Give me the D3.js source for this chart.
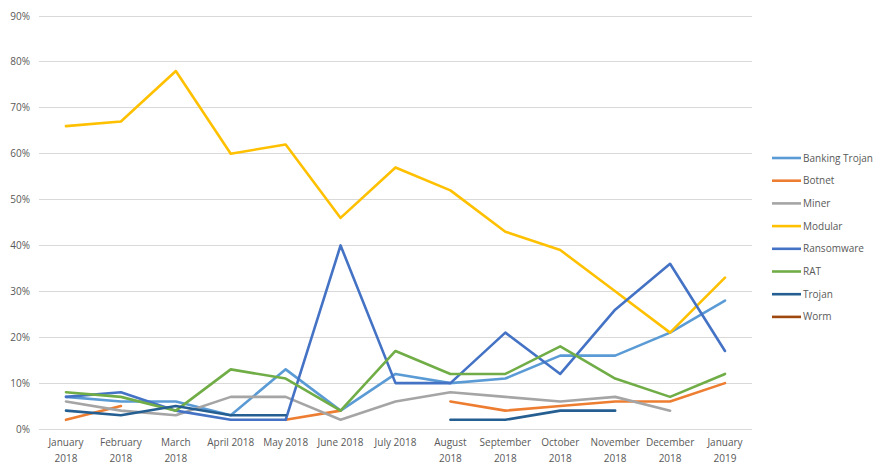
<!DOCTYPE html>
<html><head><meta charset="utf-8">
<script src="https://cdn.jsdelivr.net/npm/d3@7"></script>
<style>body{margin:0;background:#fff;font-family:"Open Sans","Liberation Sans",sans-serif;}</style>
</head><body><svg id="c" width="889" height="475"></svg>
<script>
const categories = ["January 2018","February 2018","March 2018","April 2018","May 2018","June 2018","July 2018","August 2018","September 2018","October 2018","November 2018","December 2018","January 2019"];
const tickLabels = [["January","2018"],["February","2018"],["March","2018"],["April 2018"],["May 2018"],["June 2018"],["July 2018"],["August","2018"],["September","2018"],["October","2018"],["November","2018"],["December","2018"],["January","2019"]];
const seriesNames = ["Banking Trojan","Botnet","Miner","Modular","Ransomware","RAT","Trojan","Worm"];
const seriesColors = ["#5B9BD5","#ED7D31","#A5A5A5","#FFC000","#4472C4","#70AD47","#255E91","#9E480E"];
const bankingTrojan = [7,6,6,3,13,4,12,10,11,16,16,21,28];
const botnet = [2,5,null,null,2,4,null,6,4,5,6,6,10];
const miner = [6,4,3,7,7,2,6,8,7,6,7,4,null];
const modular = [66,67,78,60,62,46,57,52,43,39,30,21,33];
const ransomware = [7,8,4,2,2,40,10,10,21,12,26,36,17];
const rat = [8,7,4,13,11,4,17,12,12,18,11,7,12];
const trojan = [4,3,5,3,3,null,null,2,2,4,4,null,null];
const worm = [null,null,null,null,null,null,null,null,null,null,null,null,null];
const yTicks = [0,10,20,30,40,50,60,70,80,90];

const seriesValues = [bankingTrojan,botnet,miner,modular,ransomware,rat,trojan,worm];
const svg = d3.select("#c");
const x = d3.scalePoint().domain(categories).range([66,725]);
const y = d3.scaleLinear().domain([0,90]).range([429,16]);
const textCol = "#595959";

// gridlines
svg.append("g").selectAll("line").data(yTicks).join("line")
  .attr("x1",39).attr("x2",752).attr("y1",d=>y(d)).attr("y2",d=>y(d))
  .attr("stroke","#d9d9d9").attr("stroke-width",1).attr("shape-rendering","crispEdges");
// y labels
svg.append("g").selectAll("text").data(yTicks).join("text")
  .attr("x",30).attr("y",d=>y(d)+3.5).attr("text-anchor","end")
  .attr("font-size",10).attr("fill",textCol).text(d=>d+"%");
// x labels
const xl = svg.append("g").selectAll("text").data(categories).join("text")
  .attr("text-anchor","middle").attr("font-size",10).attr("fill",textCol);
xl.each(function(d,i){
  const t = d3.select(this);
  tickLabels[i].forEach((ln,j)=>{
    t.append("tspan").attr("x",x(d)).attr("y",446+j*16).text(ln);
  });
});
// lines
const line = d3.line().defined(d=>d.v!=null).x(d=>x(d.c)).y(d=>y(d.v));
seriesValues.forEach((vals,i)=>{
  svg.append("path")
    .datum(vals.map((v,k)=>({c:categories[k],v})))
    .attr("d",line).attr("fill","none").attr("stroke",seriesColors[i])
    .attr("stroke-width",2.6).attr("stroke-linejoin","round").attr("stroke-linecap","round");
});
// legend
const lg = svg.append("g").selectAll("g").data(seriesNames).join("g")
  .attr("transform",(d,i)=>`translate(772,${158+i*22.7})`);
lg.append("line").attr("x1",0).attr("x2",29).attr("y1",0).attr("y2",0)
  .attr("stroke",(d,i)=>seriesColors[i]).attr("stroke-width",2.6);
lg.append("text").attr("x",31).attr("y",3.5).attr("font-size",10).attr("fill",textCol).text(d=>d);
</script></body></html>
